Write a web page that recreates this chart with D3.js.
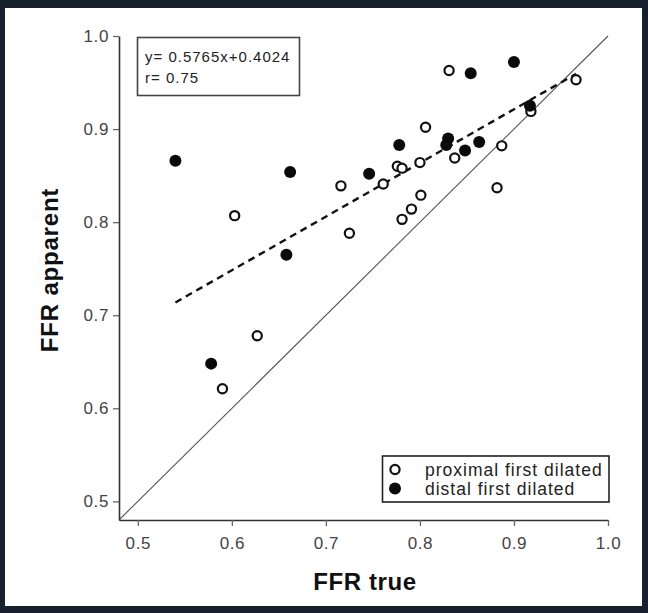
<!DOCTYPE html>
<html>
<head>
<meta charset="utf-8">
<script src="https://cdn.jsdelivr.net/npm/d3@7.9.0/dist/d3.min.js"></script>
<style>
  html, body { margin: 0; padding: 0; background: #17202d; }
  svg { display: block; }
  text { font-family: "Liberation Sans", Arial, sans-serif; }
</style>
</head>
<body>
<svg id="vis"></svg>
<script>
const width = 648;
const height = 613;

// --- data ---
const proximalX = [0.831, 0.966, 0.603, 0.716, 0.725, 0.806, 0.837, 0.800, 0.776, 0.781,
                   0.761, 0.801, 0.791, 0.781, 0.887, 0.882, 0.918, 0.627, 0.590];
const proximalY = [0.963, 0.953, 0.807, 0.839, 0.788, 0.902, 0.869, 0.864, 0.860, 0.858,
                   0.841, 0.829, 0.814, 0.803, 0.882, 0.837, 0.919, 0.678, 0.621];
const distalX = [0.540, 0.662, 0.658, 0.578, 0.746, 0.778, 0.830, 0.828, 0.848, 0.863,
                 0.854, 0.900, 0.917];
const distalY = [0.866, 0.854, 0.765, 0.648, 0.852, 0.883, 0.890, 0.883, 0.877, 0.886,
                 0.960, 0.972, 0.925];

const slope = 0.5765;
const intercept = 0.4024;
const rValue = 0.75;

const tickValues = [0.5, 0.6, 0.7, 0.8, 0.9, 1.0];
const axisDomain = [0.48, 1.0];
const seriesNames = ["proximal first dilated", "distal first dilated"];

const proximal = proximalX.map((x, i) => ({ x, y: proximalY[i] }));
const distal = distalX.map((x, i) => ({ x, y: distalY[i] }));
const allX = proximalX.concat(distalX);

const vis = d3.select("#vis")
    .attr("width", width)
    .attr("height", height);

// white page inside the dark frame
vis.append("rect")
    .attr("x", 5).attr("y", 8)
    .attr("width", 637).attr("height", 598)
    .attr("fill", "#fff");

const x = d3.scaleLinear().domain(axisDomain).range([119, 608]);
const y = d3.scaleLinear().domain(axisDomain).range([520, 36]);

// identity line
vis.append("line")
    .attr("x1", x(axisDomain[0])).attr("y1", y(axisDomain[0]))
    .attr("x2", x(axisDomain[1])).attr("y2", y(axisDomain[1]))
    .attr("stroke", "#555")
    .attr("stroke-width", 1.1);

// regression line
const xMin = d3.min(allX), xMax = d3.max(allX);
vis.append("line")
    .attr("x1", x(xMin)).attr("y1", y(slope * xMin + intercept))
    .attr("x2", x(xMax)).attr("y2", y(slope * xMax + intercept))
    .attr("stroke", "#111")
    .attr("stroke-width", 2.4)
    .attr("stroke-dasharray", "7,5");

// axes
const xAxis = vis.append("g")
    .attr("transform", `translate(0,${y(axisDomain[0])})`)
    .call(d3.axisBottom(x).tickValues(tickValues).tickFormat(d3.format(".1f"))
        .tickSize(6).tickSizeOuter(0).tickPadding(11));

const yAxis = vis.append("g")
    .attr("transform", `translate(${x(axisDomain[0])},0)`)
    .call(d3.axisLeft(y).tickValues(tickValues).tickFormat(d3.format(".1f"))
        .tickSize(6).tickSizeOuter(0).tickPadding(4));

[xAxis, yAxis].forEach(g => {
    g.select(".domain").attr("stroke", "#333").attr("stroke-width", 1.6);
    g.selectAll(".tick line").attr("stroke", "#666").attr("stroke-width", 1.3);
    g.selectAll(".tick text")
        .attr("fill", "#444")
        .style("font-size", "17px")
        .style("letter-spacing", "0.6px")
        .style("font-family", "'Liberation Sans', Arial, sans-serif");
});

// axis titles
vis.append("text")
    .attr("x", 365).attr("y", 590)
    .attr("text-anchor", "middle")
    .style("font-size", "24px")
    .style("font-weight", "bold")
    .style("letter-spacing", "0.6px")
    .attr("fill", "#111")
    .text("FFR true");

vis.append("text")
    .attr("transform", "translate(58,270) rotate(-90)")
    .attr("text-anchor", "middle")
    .style("font-size", "24px")
    .style("font-weight", "bold")
    .style("letter-spacing", "0.8px")
    .attr("fill", "#111")
    .text("FFR apparent");

// points
vis.append("g").selectAll("circle")
    .data(proximal)
    .join("circle")
    .attr("cx", d => x(d.x))
    .attr("cy", d => y(d.y))
    .attr("r", 4.6)
    .attr("fill", "#fff")
    .attr("stroke", "#111")
    .attr("stroke-width", 2.2);

vis.append("g").selectAll("circle")
    .data(distal)
    .join("circle")
    .attr("cx", d => x(d.x))
    .attr("cy", d => y(d.y))
    .attr("r", 6)
    .attr("fill", "#0a0a0a");

// equation box
vis.append("rect")
    .attr("x", 137.5).attr("y", 37.5)
    .attr("width", 162).attr("height", 58)
    .attr("fill", "#fff")
    .attr("stroke", "#444")
    .attr("stroke-width", 1.6);

vis.append("text")
    .attr("x", 145).attr("y", 62)
    .style("font-size", "15px")
    .style("letter-spacing", "1px")
    .attr("fill", "#222")
    .text(`y= ${slope}x+${intercept}`);

vis.append("text")
    .attr("x", 145).attr("y", 83)
    .style("font-size", "15px")
    .style("letter-spacing", "1px")
    .attr("fill", "#222")
    .text(`r= ${rValue}`);

// legend
vis.append("rect")
    .attr("x", 382.5).attr("y", 456)
    .attr("width", 226.5).attr("height", 46)
    .attr("fill", "#fff")
    .attr("stroke", "#222")
    .attr("stroke-width", 1.6);

vis.append("circle")
    .attr("cx", 395).attr("cy", 469.5).attr("r", 4.6)
    .attr("fill", "#fff").attr("stroke", "#111").attr("stroke-width", 2.2);
vis.append("circle")
    .attr("cx", 395).attr("cy", 488.5).attr("r", 6)
    .attr("fill", "#0a0a0a");

seriesNames.forEach((name, i) => {
    vis.append("text")
        .attr("x", 425).attr("y", 476 + i * 19)
        .style("font-size", "17.5px")
        .style("letter-spacing", "1px")
        .attr("fill", "#222")
        .text(name);
});
</script>
</body>
</html>
